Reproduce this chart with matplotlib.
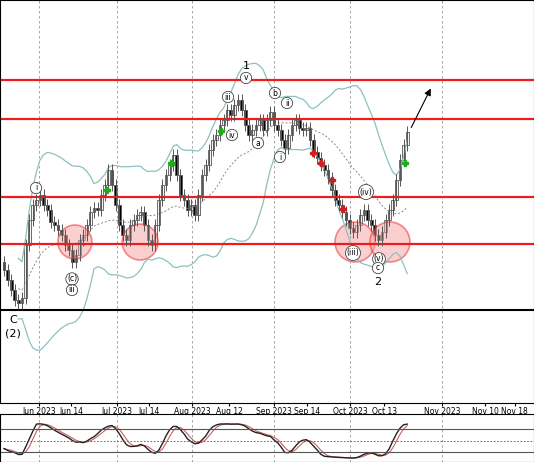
import numpy as np
import pandas as pd
import matplotlib
matplotlib.use('Agg')
import matplotlib.pyplot as plt
from matplotlib.patches import Ellipse

# closes, price units (chart has no visible price axis)
closes = [270, 280, 290, 300, 303, 298, 245, 220, 205, 200, 195, 205, 210, 222, 225, 230,
          235, 245, 250, 262, 255, 240, 235, 225, 212, 208, 210, 195, 185, 170, 185, 205,
          225, 235, 240, 225, 220, 215, 212, 225, 240, 245, 225, 200, 185, 175, 165, 155,
          175, 195, 200, 210, 205, 215, 195, 175, 165, 150, 140, 135, 125, 120, 110, 115,
          105, 100, 110, 125, 135, 130, 125, 120, 130, 120, 112, 125, 130, 140, 148, 135,
          125, 120, 128, 130, 128, 140, 152, 158, 165, 170, 178, 190, 200, 205, 212, 220,
          228, 232, 225, 215, 210, 220, 225, 235, 240, 232, 220, 210, 200, 180, 160, 145, 132]
closes = 500 - np.array(closes, dtype=float)
opens = np.r_[closes[0] + 8, closes[:-1]]
highs = np.maximum(opens, closes) + 6
lows = np.minimum(opens, closes) - 6
idx = np.arange(len(closes))

red_levels = [420, 381, 303, 256]
black_level = 190

tick_pos = [9.7, 18.6, 31.4, 40.3, 52.2, 62.5, 75.0, 84.2, 96.1, 105.6, 121.7, 133.6, 141.9]
tick_lab = ['Jun 2023', 'Jun 14', 'Jul 2023', 'Jul 14', 'Aug 2023', 'Aug 12', 'Sep 2023',
            'Sep 14', 'Oct 2023', 'Oct 13', 'Nov 2023', 'Nov 10', 'Nov 18']
grid_pos = [9.7, 31.4, 52.2, 75.0, 96.1, 121.7]

s = pd.Series(closes)
mid = s.rolling(20, min_periods=5).mean()
sd = s.rolling(20, min_periods=5).std()
up, dn = mid + 2.2 * sd, mid - 2.2 * sd

hh = pd.Series(highs).rolling(16, min_periods=1).max()
ll = pd.Series(lows).rolling(16, min_periods=1).min()
k = (100 * (s - ll) / (hh - ll)).rolling(4, min_periods=1).mean()
d = k.rolling(3, min_periods=1).mean()

fig = plt.figure(figsize=(5.34, 4.62), dpi=100)
ax = fig.add_axes([0, 59 / 462, 1, 403 / 462])
ax2 = fig.add_axes([0, 0, 1, 48 / 462])
xl = (-4 / 3.6, 530 / 3.6)

for g in grid_pos:
    ax.axvline(g, color='#999999', ls=(0, (3, 3)), lw=0.6)
    ax2.axvline(g, color='#999999', ls=(0, (3, 3)), lw=0.6)

ax.plot(idx, up, color='#8fc0c0', lw=0.9)
ax.plot(idx, dn, color='#8fc0c0', lw=0.9)
ax.plot(idx, mid, color='#888888', lw=0.7, ls=(0, (2, 2)))

for lv in red_levels:
    ax.axhline(lv, color='#ee1c1c', lw=1.6)
ax.axhline(black_level, color='black', lw=1.5)

for i in idx:
    bull = closes[i] >= opens[i]
    ax.vlines(i, lows[i], highs[i], color='#555555', lw=0.7)
    b0, b1 = sorted([opens[i], closes[i]])
    ax.bar(i, max(b1 - b0, 1), bottom=b0, width=0.8,
           color='#f4f4f4' if bull else 'black', edgecolor='#555555', lw=0.6)

for cx, r in [(19.7, 17), (37.8, 18), (97.5, 20), (107.2, 20)]:
    ax.add_patch(Ellipse((cx, 258), 2 * r / 3.6, 2 * r, facecolor='#f4a0a0', alpha=0.5,
                         edgecolor='#ee2222', lw=1.2))

for px, py in [(107, 190), (171, 163), (221, 131), (405, 163)]:
    ax.plot((px - 4) / 3.6, 500 - py, marker='P', color='#22aa22', ms=5)
for px, py in [(313, 153), (321, 163), (332, 180), (343, 209)]:
    ax.plot((px - 4) / 3.6, 500 - py, marker='P', color='#cc2222', ms=4)

circ = [('i', 36, 188), ('(c)', 72, 279), ('iii', 72, 290), ('v', 246, 78), ('iii', 228, 97),
        ('iv', 232, 135), ('b', 275, 93), ('a', 258, 143), ('ii', 287, 103), ('i', 280, 157),
        ('(iv)', 366, 192), ('(iii)', 353, 253), ('(v)', 379, 259), ('c', 378, 268)]
for t, px, py in circ:
    ax.text((px - 4) / 3.6, 500 - py, t, fontsize=5.5, ha='center', va='center',
            bbox=dict(boxstyle='circle,pad=0.15', fc='white', ec='#444444', lw=0.6))
for t, px, py in [('1', 246, 66), ('2', 378, 282), ('C', 13, 320), ('(2)', 13, 333)]:
    ax.text((px - 4) / 3.6, 500 - py, t, fontsize=8, ha='center', va='center')
ax.annotate('', xy=((432 - 4) / 3.6, 500 - 86), xytext=((410 - 4) / 3.6, 500 - 130),
            arrowprops=dict(arrowstyle='-|>', color='black', lw=0.8))

ax.set_xlim(*xl)
ax.set_ylim(97, 500)
ax.set_yticks([])
ax.set_xticks(tick_pos)
ax.set_xticklabels(tick_lab, fontsize=5.5)
ax.tick_params(axis='x', length=2, pad=1)

ax2.plot(idx, d, color='#d06060', lw=0.8)
ax2.plot(idx, k, color='#222222', lw=1.0)
ax2.axhline(80, color='#555555', lw=0.8)
ax2.axhline(50, color='#555555', lw=0.6, ls=(0, (2, 2)))
ax2.axhline(20, color='#555555', lw=0.8)
ax2.set_xlim(*xl)
ax2.set_ylim(-5, 120)
ax2.set_xticks([])
ax2.set_yticks([])

fig.savefig('out.png', dpi=100)
